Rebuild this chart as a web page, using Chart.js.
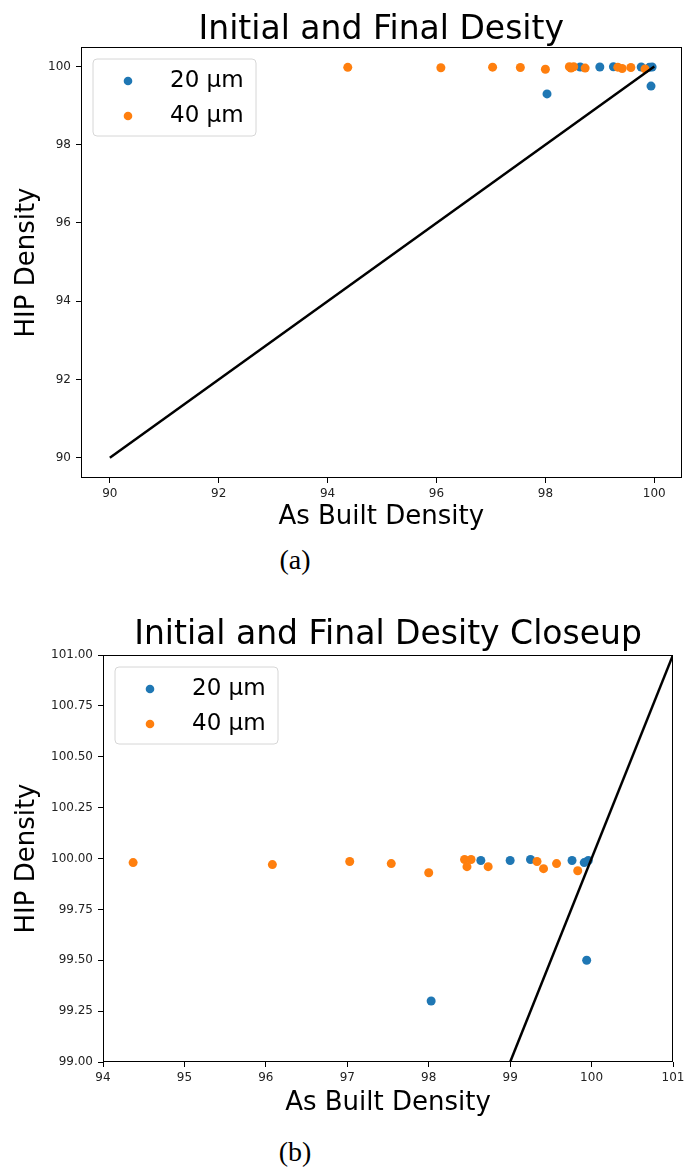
<!DOCTYPE html>
<html lang="en">
<head>
<meta charset="UTF-8">
<title>Initial and Final Desity</title>
<style>
    body {
        margin: 0;
        background: #fff;
        width: 686px;
        height: 1168px;
        position: relative;
        overflow: hidden;
    }

    .plot {
        position: absolute;
        left: 0;
        width: 686px;
        height: 540px;
    }

    #plotA { top: 0; }
    #plotB { top: 590px; }

    .caption {
        position: absolute;
        left: 255px;
        width: 80px;
        text-align: center;
        font-family: "Liberation Serif", "DejaVu Serif", serif;
        font-size: 28px;
        line-height: 32px;
        color: #000;
    }
</style>
</head>
<body>
<div class="plot" id="plotA"><canvas id="chartA" width="686" height="540"></canvas></div>
<div class="caption" style="top:544px">(a)</div>
<div class="plot" id="plotB"><canvas id="chartB" width="686" height="540"></canvas></div>
<div class="caption" style="top:1136px">(b)</div>

<script src="https://cdn.jsdelivr.net/npm/chart.js"></script>
<script>
// data
const series20X = [98.03, 98.64, 99.00, 99.25, 99.76, 99.91, 99.96, 99.94];
const series20Y = [99.30, 99.99, 99.99, 99.995, 99.99, 99.98, 99.99, 99.50];

const series40X = [94.37, 96.08, 97.03, 97.54, 98.00, 98.44, 98.47, 98.52, 98.73, 99.33, 99.41, 99.57, 99.83];
const series40Y = [99.98, 99.97, 99.985, 99.975, 99.93, 99.995, 99.96, 99.995, 99.96, 99.985, 99.95, 99.975, 99.94];

// y = x reference line
const lineAX = [90, 100];
const lineAY = [90, 100];
const lineBX = [99, 101];
const lineBY = [99, 101];

// ticks
const xTicksA = [90, 92, 94, 96, 98, 100];
const yTicksA = [90, 92, 94, 96, 98, 100];
const xLabelsA = ['90', '92', '94', '96', '98', '100'];
const yLabelsA = ['90', '92', '94', '96', '98', '100'];

const xTicksB = [94, 95, 96, 97, 98, 99, 100, 101];
const xLabelsB = ['94', '95', '96', '97', '98', '99', '100', '101'];
const yTicksB = [99, 99.25, 99.5, 99.75, 100, 100.25, 100.5, 100.75, 101];
const yLabelsB = ['99.00', '99.25', '99.50', '99.75', '100.00', '100.25', '100.50', '100.75', '101.00'];

const blue = '#1f77b4';
const orange = '#ff7f0e';
const fontFamily = "'DejaVu Sans', sans-serif";

function pts(xs, ys) {
    return xs.map((x, i) => ({ x: x, y: ys[i] }));
}

// box around the axes + legend inside the upper left corner
const frameAndLegend = {
    id: 'frameAndLegend',
    afterDraw(chart) {
        const ctx = chart.ctx;
        const a = chart.chartArea;
        ctx.save();
        ctx.strokeStyle = '#000';
        ctx.lineWidth = 1;
        ctx.strokeRect(Math.round(a.left) + 0.5, Math.round(a.top) + 0.5,
            Math.round(a.right - a.left) - 1, Math.round(a.bottom - a.top) - 1);

        const bx = a.left + 12, by = a.top + 12, bw = 163, bh = 77, r = 4;
        ctx.beginPath();
        ctx.moveTo(bx + r, by);
        ctx.arcTo(bx + bw, by, bx + bw, by + bh, r);
        ctx.arcTo(bx + bw, by + bh, bx, by + bh, r);
        ctx.arcTo(bx, by + bh, bx, by, r);
        ctx.arcTo(bx, by, bx + bw, by, r);
        ctx.closePath();
        ctx.fillStyle = 'rgba(255,255,255,0.8)';
        ctx.fill();
        ctx.strokeStyle = '#d6d6d6';
        ctx.stroke();

        const items = chart.data.datasets.filter(d => d.label);
        ctx.font = '23px ' + fontFamily;
        ctx.textBaseline = 'middle';
        ctx.textAlign = 'left';
        items.forEach((d, i) => {
            const y = by + 22 + i * 35;
            ctx.beginPath();
            ctx.arc(bx + 35, y, 4.3, 0, Math.PI * 2);
            ctx.fillStyle = d.backgroundColor;
            ctx.fill();
            ctx.fillStyle = '#000';
            ctx.fillText(d.label, bx + 77, y);
        });
        ctx.restore();
    }
};

function makeChart(id, c) {
    const tickGrid = {
        drawOnChartArea: false,
        drawTicks: true,
        tickLength: 5,
        tickColor: '#000',
        color: '#000'
    };
    return new Chart(document.getElementById(id), {
        type: 'scatter',
        data: {
            datasets: [
                { label: '20 µm', data: pts(series20X, series20Y), backgroundColor: blue, pointRadius: 4.5, pointBorderWidth: 0, order: 2 },
                { label: '40 µm', data: pts(series40X, series40Y), backgroundColor: orange, pointRadius: 4.5, pointBorderWidth: 0, order: 1 },
                { data: pts(c.lineX, c.lineY), showLine: true, borderColor: '#000', borderWidth: 2.5, pointRadius: 0, order: 0 }
            ]
        },
        options: {
            responsive: false,
            animation: false,
            layout: { padding: { left: 0, right: c.padRight, top: 0, bottom: 0 } },
            plugins: {
                legend: { display: false },
                tooltip: { enabled: false },
                title: {
                    display: true,
                    text: c.title,
                    fullSize: false,
                    color: '#000',
                    font: { family: fontFamily, size: 33, weight: 'normal', lineHeight: 1 },
                    padding: { top: c.titleTop, bottom: c.titleBottom }
                }
            },
            scales: {
                x: {
                    type: 'linear',
                    min: c.xMin,
                    max: c.xMax,
                    afterBuildTicks: s => { s.ticks = c.xTicks.map(v => ({ value: v })); },
                    afterFit: s => { s.height = c.xHeight; s.paddingLeft = 0; s.paddingRight = 0; },
                    border: { display: false },
                    grid: tickGrid,
                    ticks: {
                        autoSkip: false,
                        maxRotation: 0,
                        padding: 4,
                        color: '#222',
                        font: { family: fontFamily, size: 12 },
                        callback: (v, i) => c.xLabels[i]
                    },
                    title: {
                        display: true,
                        text: 'As Built Density',
                        color: '#000',
                        font: { family: fontFamily, size: 26, lineHeight: 1.2 },
                        padding: { top: 0, bottom: c.xTitleBottom }
                    }
                },
                y: {
                    type: 'linear',
                    min: c.yMin,
                    max: c.yMax,
                    afterBuildTicks: s => { s.ticks = c.yTicks.map(v => ({ value: v })); },
                    afterFit: s => { s.width = c.yWidth; s.paddingTop = 0; s.paddingBottom = 0; },
                    border: { display: false },
                    grid: tickGrid,
                    ticks: {
                        autoSkip: false,
                        padding: 5,
                        color: '#222',
                        font: { family: fontFamily, size: 12 },
                        callback: (v, i) => c.yLabels[i]
                    },
                    title: {
                        display: true,
                        text: 'HIP Density',
                        color: '#000',
                        font: { family: fontFamily, size: 26, lineHeight: 1.2 },
                        padding: { top: 12, bottom: 0 }
                    }
                }
            }
        },
        plugins: [frameAndLegend]
    });
}

makeChart('chartA', {
    title: 'Initial and Final Desity',
    titleTop: 14, titleBottom: 0,
    padRight: 3,
    xMin: 89.47, xMax: 100.5, yMin: 89.48, yMax: 100.5,
    xTicks: xTicksA, xLabels: xLabelsA, yTicks: yTicksA, yLabels: yLabelsA,
    lineX: lineAX, lineY: lineAY,
    xHeight: 62, xTitleBottom: 7, yWidth: 81
});

makeChart('chartB', {
    title: 'Initial and Final Desity Closeup',
    titleTop: 29, titleBottom: 3,
    padRight: 13,
    xMin: 94, xMax: 101, yMin: 99, yMax: 101,
    xTicks: xTicksB, xLabels: xLabelsB, yTicks: yTicksB, yLabels: yLabelsB,
    lineX: lineBX, lineY: lineBY,
    xHeight: 68, xTitleBottom: 11, yWidth: 103
});
</script>
</body>
</html>
